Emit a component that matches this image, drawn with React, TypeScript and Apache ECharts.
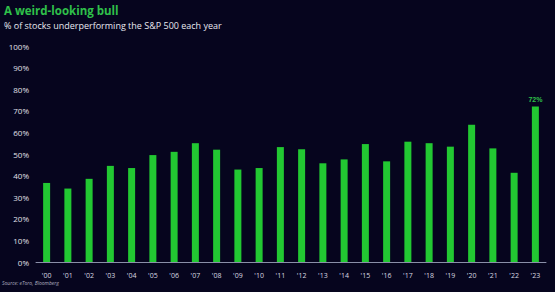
import React, { useEffect, useRef } from "react";
import * as echarts from "echarts";

const years = ["'00","'01","'02","'03","'04","'05","'06","'07","'08","'09","'10","'11","'12","'13","'14","'15","'16","'17","'18","'19","'20","'21","'22","'23"];
const underperformingPct = [36.6, 34, 38.5, 44.5, 43.5, 49.5, 51, 55, 52, 42.8, 43.5, 53.2, 52.2, 45.7, 47.5, 54.6, 46.6, 55.7, 55, 53.4, 63.5, 52.6, 41.3, 72];
const yTicks = { min: 0, max: 100, interval: 10 };

export default function App() {
  const ref = useRef<HTMLDivElement>(null);
  useEffect(() => {
    if (!ref.current) return;
    const chart = echarts.init(ref.current, undefined, { renderer: "svg" });
    const last = underperformingPct.length - 1;
    chart.setOption({
      animation: false,
      backgroundColor: "#06051e",
      graphic: [
        { type: "text", left: 4, top: 4, style: { text: "A weird-looking bull", fill: "#2fc04a", font: "bold 11.5px 'Open Sans', sans-serif" } },
        { type: "text", left: 4, top: 21, style: { text: "% of stocks underperforming the S&P 500 each year", fill: "#e8e8f0", font: "9px 'Open Sans', sans-serif" } },
        { type: "text", left: 2, top: 280, style: { text: "Source: eToro, Bloomberg", fill: "#b0b0c0", font: "italic 5px 'Open Sans', sans-serif" } },
      ],
      grid: { left: 36, right: 9, top: 46, bottom: 30 },
      xAxis: {
        type: "category",
        data: years,
        axisLine: { show: true, lineStyle: { color: "#8a8fa8", width: 1 } },
        axisTick: { show: false },
        axisLabel: { color: "#d8d8e0", fontSize: 7, margin: 10, fontFamily: "'Open Sans', sans-serif" },
      },
      yAxis: {
        type: "value",
        min: yTicks.min,
        max: yTicks.max,
        interval: yTicks.interval,
        splitLine: { show: false },
        axisLine: { show: false },
        axisTick: { show: false },
        axisLabel: { color: "#e0e0e8", fontSize: 8, margin: 7, formatter: "{value}%", fontFamily: "'Open Sans', sans-serif" },
      },
      series: [
        {
          type: "bar",
          data: underperformingPct.map((v, i) =>
            i === last
              ? { value: v, label: { show: true, position: "top", formatter: "72%", color: "#2fc04a", fontSize: 7, fontWeight: "bold", distance: 3 } }
              : v
          ),
          barWidth: 7,
          itemStyle: { color: "#22c832" },
        },
      ],
    });
    return () => chart.dispose();
  }, []);
  return <div ref={ref} style={{ width: 555, height: 292, position: "absolute", left: 0, top: 0 }} />;
}
